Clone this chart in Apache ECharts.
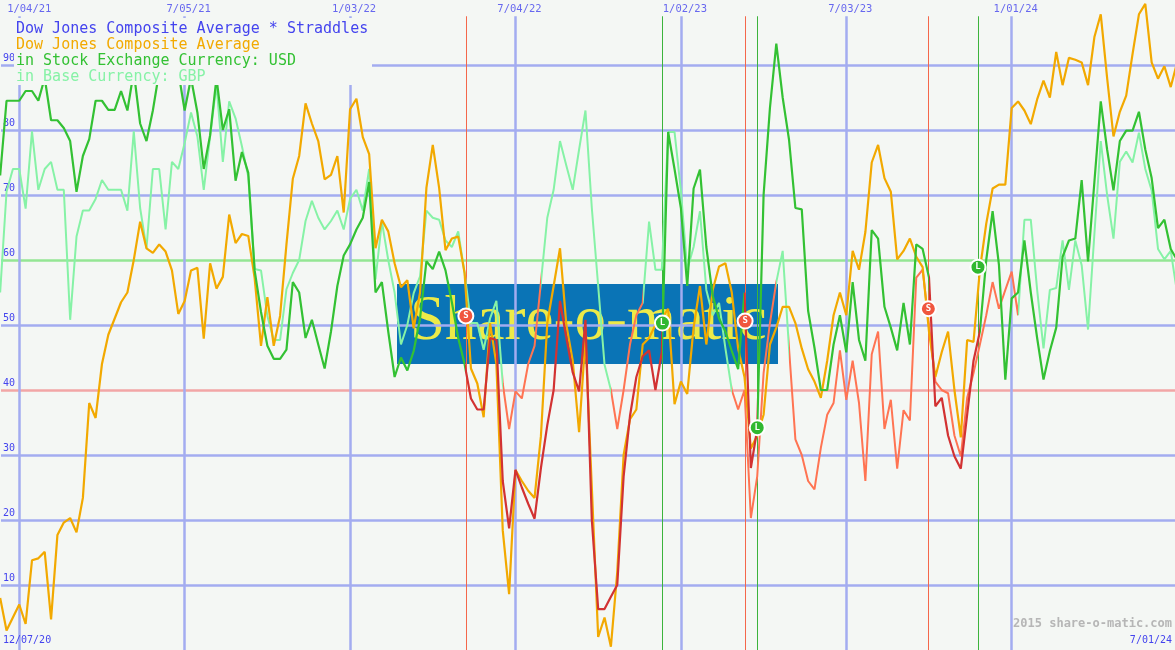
<!DOCTYPE html>
<html><head><meta charset="utf-8">
<script src="https://cdn.jsdelivr.net/npm/echarts@6/dist/echarts.min.js"></script>
<style>html,body{margin:0;padding:0;background:#f4f7f4}#c{width:1175px;height:650px}</style>
</head><body><div id="c"></div>
<script>
// week index 0 = Monday 1/04/21 ; arrays start at week -3
const START_WEEK = -3;
const orange = [8,3,5,7,4,13.8,14.1,15.1,4.7,17.7,19.6,20.3,18.1,23.4,38,35.7,44,48.5,51,53.5,55,60,65.9,61.8,61.1,62.4,61.3,58.4,51.7,53.7,58.4,58.8,47.9,59.5,55.6,57.4,67,62.6,64,63.7,57.2,46.8,54.3,46.8,51.4,62.4,72.5,76,84.1,81,78.3,72.4,73.1,76,67.3,83.2,84.8,78.9,76.3,61.8,66.2,64.4,59.5,55.8,56.9,49.5,55,71.1,77.7,71.1,61.5,63.3,63.6,58,43.3,41,35.8,50.3,44,18.4,8.6,27.7,26,24.5,23.4,32.9,50.3,56,61.8,50,44.5,33.5,48,25,2,5,0.5,12,30,35.5,37,47,48,50,51,52.5,37.8,41.3,39.4,49.6,56,47,55.4,59,59.5,55,46.4,42,31,33,36.2,47,49.6,52.8,52.8,50.3,46.4,43.2,41.3,38.8,44.5,51.5,55,51.5,61.4,58.5,64.3,75,77.7,72.6,70.5,60.1,61.4,63.3,60.5,58.9,49,42,45.8,49,40,32.7,47.7,47.4,58.5,65.6,71,71.6,71.6,83.4,84.4,83,80.9,84.7,87.6,85,92,86.9,91.1,90.8,90.4,86.9,94.3,97.8,88,79,82.8,85.3,91.7,97.8,99.4,90.4,87.9,89.8,86.6,90.4];
const usd = [73,84.5,84.5,84.5,86,86,84.5,88,81.5,81.5,80.3,78.3,70.5,76,78.6,84.5,84.5,83.1,83.1,86,83,89,81,78.3,83,89,92,91,89,83,88,82.7,74,79.2,88,80,83.2,72.2,76.6,73.4,58.4,52,46.8,44.8,44.8,46.2,56.6,55,48,50.8,47,43.3,49,56,60.7,62.4,64.7,66.5,72,55,56.6,49,42,45,43,46,51,59.8,58.6,61.3,58.4,53.5,48,44,38.7,37,37,48,47.7,26,18.7,27.7,25,22.5,20.2,28,34.6,40,53.7,48,42.7,39.8,50.8,20,6.3,6.3,8.2,10,26.7,36,42,45.2,46.1,40,45.8,79.7,74,68,56,71,73.9,62,54.5,51,49,46,43.2,55,28,34,70,83.4,93.3,85,78.5,68,67.8,52.2,46.5,40,40,47,51.5,45.8,56.6,47.7,44.5,64.6,63.3,52.8,49.6,46.1,53.4,47,62.4,61.7,57.3,37.5,38.8,33,29.8,27.9,36.2,44.5,49,60,67.5,59.2,41.6,54.1,55,63,55,48,41.6,46,49.6,60.5,63,63.3,72.3,59.8,72,84.4,77,70.7,78.3,79.9,79.9,82.8,77,72.6,64.9,66.2,61.7,60];
const gbp = [55,70.5,74,74,67.9,79.8,70.8,74,75.1,70.8,70.8,50.8,63.6,67.6,67.6,69.4,72.3,70.8,70.8,70.8,67.6,79.8,68,61.8,74,74,64.7,75.1,74,78,82.7,79,70.8,79,87,75.1,84.4,81.8,77.5,72.8,58.6,58.4,51.4,47.7,47.7,55.5,58,60,66,69.1,66.5,64.7,66,67.6,64.7,69.4,70.8,67.6,74,57,65.9,60,55,47,50,54.9,57.5,67.6,66.5,66.2,63,62,64.4,58,50.3,50.3,46.2,51,53.7,41,34,39.8,38.7,44,46.8,56.6,66.5,70.8,78.3,74.5,70.8,77,83,68,56,43.9,40,34,40,47,51.5,53.4,65.9,58.5,58.5,79.7,79.7,70.7,58.5,62,67.5,55.4,51.5,53.4,46.4,40,37,40,20.3,26.7,42.6,50.3,56.6,61.4,46.4,32.4,30,26,24.7,31.1,36.2,38,46.1,38.5,44.5,38,26,45.5,49,34,38.5,27.9,36.9,35.3,57.3,58.5,50,41.3,40,39.5,33,29.8,38.8,42.6,47,51.5,56.6,52.5,55.4,58.2,51.5,66.2,66.2,55.4,46.4,55.4,55.7,63,55.4,63,59.2,49.3,64,78.3,70,63.3,75.1,76.7,75,79.6,74,70.7,61.7,60.1,61.4,55];
const usdRedRanges = [[70,101],[114,116],[143,151]];
const gbpSalmonRanges = [[76,82],[93,98],[112,119],[121,157]];
const gridWeeks = [0,26,52,78,104,130,156];
const gridLabels = ['1/04/21','7/05/21','1/03/22','7/04/22','1/02/23','7/03/23','1/01/24'];
const hLines = [10,20,30,50,70,80,90];
const sellSignals = [[70.2,51.4],[114.1,50.6],[142.9,52.5]];
const buySignals = [[101.1,50.3],[116.0,34.2],[150.7,58.9]];
const legendLines = ['Dow Jones Composite Average * Straddles','Dow Jones Composite Average','in Stock Exchange Currency: USD','in Base Currency: GBP'];
const startLabel = '12/07/20', endLabel = '7/01/24', credit = '2015 share-o-matic.com';

const C = {bg:'#f4f7f4', grid:'#a3acf0', blue:'#4444ee', orange:'#f2a900', green:'#33c133', lgreen:'#86f2a6', red:'#d23232', salmon:'#ff7452'};
const MONO = '"DejaVu Sans Mono", monospace';
const toXY = arr => arr.map((v,i)=>[START_WEEK+i, v]);
const TOP = 97.5;

const chart = echarts.init(document.getElementById('c'), null, {renderer:'canvas'});
const option = {
  backgroundColor: C.bg,
  animation: false,
  grid: {left:0,right:0,top:0,bottom:0},
  xAxis: {type:'value', min:-2.87, max:181.67, show:false},
  yAxis: {type:'value', min:0, max:100, interval:10, splitLine:{show:false}, axisLine:{show:false}, axisTick:{show:false},
    axisLabel:{inside:true, margin:2, verticalAlign:'bottom', padding:[0,0,2,0], color:C.blue, fontSize:10, fontFamily:MONO,
      formatter: v => (v===0||v===100)?'':String(v)}},
  visualMap: [
    {type:'piecewise', show:false, dimension:0, seriesIndex:2,
     pieces: usdRedRanges.map(r=>({gte:r[0], lte:r[1], color:C.red})), outOfRange:{color:C.green}},
    {type:'piecewise', show:false, dimension:0, seriesIndex:0,
     pieces: gbpSalmonRanges.map(r=>({gte:r[0], lte:r[1], color:C.salmon})), outOfRange:{color:C.lgreen}}
  ],
  series: [
    {type:'line', name:'GBP', data: toXY(gbp), showSymbol:false, lineStyle:{width:2}, z:3,
     markLine:{silent:true, z:1, symbol:['none','none'], label:{show:false},
       data: hLines.map(v=>({yAxis:v, lineStyle:{color:C.grid, width:2.5, type:'solid'}}))
         .concat([{yAxis:60, lineStyle:{color:'#94e694', width:2.5, type:'solid'}},{yAxis:40, lineStyle:{color:'#f2a6a6', width:2.5, type:'solid'}}])
         .concat(gridWeeks.map(w=>[{coord:[w,TOP], lineStyle:{color:C.grid, width:2.5, type:'solid'}},{coord:[w,0]}]))
         .concat(sellSignals.map(s=>[{coord:[s[0],TOP], lineStyle:{color:'#f4674a', width:1, type:'solid'}},{coord:[s[0],0]}]))
         .concat(buySignals.map(s=>[{coord:[s[0],TOP], lineStyle:{color:'#3cb43c', width:1, type:'solid'}},{coord:[s[0],0]}]))
     }},
    {type:'line', name:'Dow Jones Composite Average', data: toXY(orange), showSymbol:false, lineStyle:{width:2.2, color:C.orange}, itemStyle:{color:C.orange}, z:4},
    {type:'line', name:'USD', data: toXY(usd), showSymbol:false, lineStyle:{width:2.2}, z:5},
    {type:'scatter', name:'sell', data: sellSignals, symbol:'circle', symbolSize:15, z:10,
     itemStyle:{color:'#f0563e', borderColor:'#ffffff', borderWidth:2, opacity:1},
     label:{show:true, position:'inside', formatter:'S', color:'#ffffff', fontSize:9, fontWeight:'bold', fontFamily:MONO}},
    {type:'scatter', name:'buy', data: buySignals, symbol:'circle', symbolSize:15, z:10,
     itemStyle:{color:'#30b830', borderColor:'#ffffff', borderWidth:2, opacity:1},
     label:{show:true, position:'inside', formatter:'L', color:'#ffffff', fontSize:9, fontWeight:'bold', fontFamily:MONO}},
    {type:'scatter', name:'ticks', data: gridWeeks.map((w,i)=> i===0 ? {value:[w,98.5], label:{offset:[10,0]}} : [w, 98.5]), symbolSize:0, z:10, silent:true,
     label:{show:true, position:'inside', formatter: p => gridLabels[p.dataIndex], color:C.blue, fontSize:10.5, fontFamily:MONO, offset:[4,0]}}
  ],
  graphic: [
    {type:'rect', z:0, shape:{x:397, y:284, width:381, height:80}, style:{fill:'#0a74b6'}},
    {type:'text', z:0, left:410, top:291, style:{text:'Share-o-matic', font:'63px "Liberation Serif", serif', fill:'#ecea48',
      shadowColor:'rgba(20,20,20,0.85)', shadowBlur:3, shadowOffsetX:3, shadowOffsetY:3}},
    {type:'rect', z:100, shape:{x:14, y:18, width:358, height:67}, style:{fill:C.bg}},
    {type:'text', z:101, left:16, top:22, style:{text:legendLines[0], font:'15px '+MONO, fill:C.blue}},
    {type:'text', z:101, left:16, top:38, style:{text:legendLines[1], font:'15px '+MONO, fill:C.orange}},
    {type:'text', z:101, left:16, top:54, style:{text:legendLines[2], font:'15px '+MONO, fill:C.green}},
    {type:'text', z:101, left:16, top:70, style:{text:legendLines[3], font:'15px '+MONO, fill:C.lgreen}},
    {type:'text', z:101, left:3, top:635, style:{text:startLabel, font:'10px '+MONO, fill:C.blue}},
    {type:'text', z:101, right:3, top:635, style:{text:endLabel, font:'10px '+MONO, fill:C.blue}},
    {type:'text', z:101, right:3, top:618, style:{text:credit, font:'bold 12px '+MONO, fill:'#b6b6b6'}}
  ]
};
chart.setOption(option);
</script></body></html>
